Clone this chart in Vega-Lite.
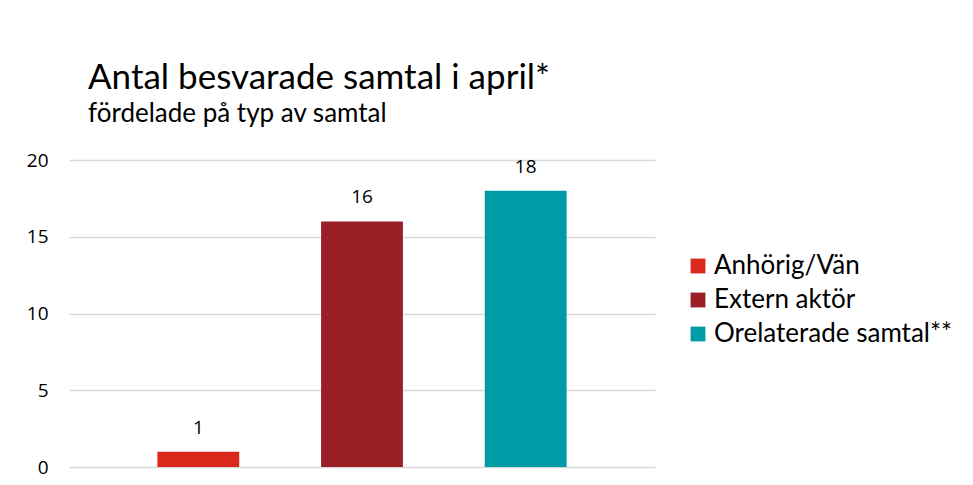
{
  "$schema": "https://vega.github.io/schema/vega-lite/v6.json",
  "autosize": {"type": "none"},
  "width": 586,
  "height": 307,
  "padding": {"left": 69, "top": 160, "right": 318, "bottom": 18},
  "background": "white",
  "title": {
    "text": "Antal besvarade samtal i april*",
    "subtitle": "fördelade på typ av samtal",
    "anchor": "start",
    "frame": "group",
    "dx": 19,
    "offset": 24,
    "font": "Lato",
    "fontSize": 35,
    "fontWeight": "normal",
    "color": "#000000",
    "subtitleFont": "Lato",
    "subtitleFontSize": 26,
    "subtitleFontWeight": "normal",
    "subtitleColor": "#000000",
    "subtitlePadding": 5
  },
  "data": {
    "values": [
      {"typ": "Anhörig/Vän", "antal": 1},
      {"typ": "Extern aktör", "antal": 16},
      {"typ": "Orelaterade samtal**", "antal": 18}
    ]
  },
  "encoding": {
    "x": {
      "field": "typ",
      "type": "nominal",
      "sort": null,
      "scale": {"paddingInner": 0.5, "paddingOuter": 0.54},
      "axis": null
    },
    "y": {
      "field": "antal",
      "type": "quantitative",
      "scale": {"domain": [0, 20]},
      "axis": {
        "values": [0, 5, 10, 15, 20],
        "title": null,
        "domain": false,
        "ticks": false,
        "labelPadding": 21,
        "labelFont": "Open Sans",
        "labelFontSize": 19,
        "labelColor": "#000000",
        "gridColor": "#d9d9d9",
        "gridWidth": 1.5
      }
    }
  },
  "layer": [
    {
      "mark": {"type": "bar"},
      "encoding": {
        "color": {
          "field": "typ",
          "type": "nominal",
          "sort": null,
          "scale": {"range": ["#DA291C", "#9A1F24", "#009CA6"]},
          "legend": {
            "title": null,
            "orient": "none",
            "legendX": 616,
            "legendY": 93,
            "symbolType": "square",
            "symbolSize": 220,
            "symbolStrokeWidth": 0,
            "labelFont": "Lato",
            "labelFontSize": 26,
            "labelFontWeight": "normal",
            "labelColor": "#000000",
            "labelLimit": 400,
            "rowPadding": 8,
            "labelOffset": 3
          }
        }
      }
    },
    {
      "mark": {"type": "text", "baseline": "bottom", "dy": -14, "font": "Open Sans", "fontSize": 19, "color": "#000000"},
      "encoding": {"text": {"field": "antal", "type": "quantitative"}}
    }
  ],
  "config": {"view": {"stroke": null}}
}
